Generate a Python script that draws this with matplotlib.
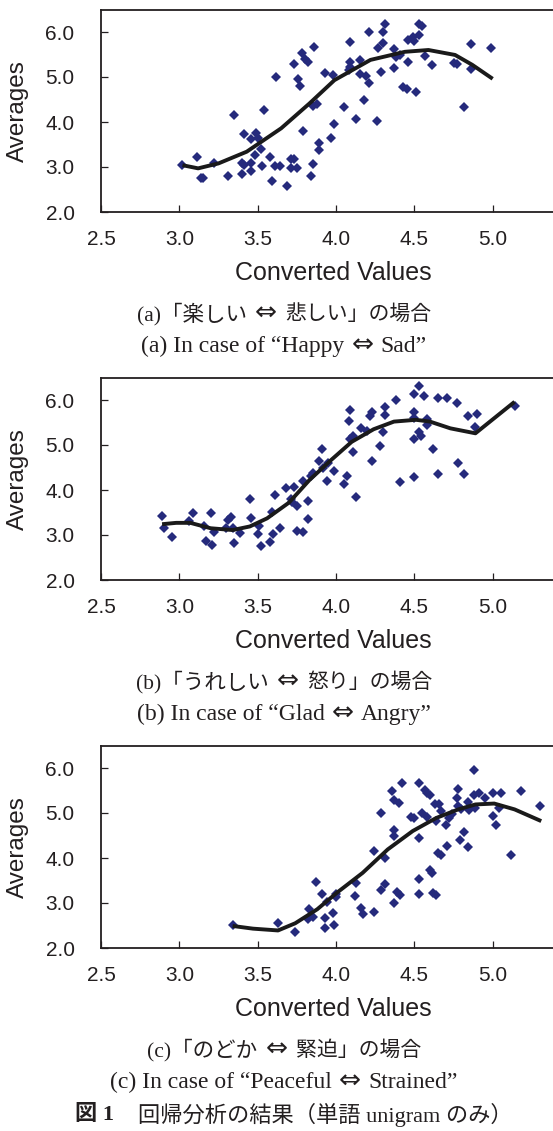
import matplotlib
matplotlib.use('Agg')
import matplotlib.pyplot as plt
from matplotlib.offsetbox import TextArea, HPacker, AnnotationBbox

W, H = 553, 1131
fig = plt.figure(figsize=(W / 100, H / 100), dpi=100)

# ---------------- data ----------------
a_x = [3.02,3.11,3.14,3.15,3.22,3.31,3.35,3.40,3.41,3.40,
       3.41,3.46,3.46,3.46,3.49,3.50,3.48,3.52,3.53,3.54,
       3.59,3.62,3.58,3.61,3.64,3.69,3.71,3.73,3.71,3.75,
       3.73,3.78,3.76,3.77,3.80,3.82,3.86,3.79,3.84,3.85,
       3.85,3.88,3.89,3.89,3.93,3.97,3.98,3.99,4.05,4.09,
       4.09,4.08,4.09,4.13,4.15,4.15,4.19,4.18,4.21,4.21,
       4.26,4.27,4.30,4.31,4.30,4.29,4.37,4.37,4.38,4.41,
       4.43,4.45,4.46,4.46,4.49,4.50,4.53,4.51,4.53,4.55,
       4.57,4.61,4.75,4.77,4.82,4.86,4.86,4.99]
a_y = [3.04,3.23,2.75,2.75,3.10,2.79,4.16,3.10,3.73,2.84,
       3.04,3.62,3.10,2.91,3.75,3.64,3.27,3.41,3.02,4.27,
       2.70,4.99,3.23,3.03,3.03,2.58,3.18,3.17,2.97,2.97,
       5.30,5.53,4.96,4.81,5.39,5.33,5.67,3.79,2.81,3.06,
       4.36,4.40,3.53,3.38,5.10,3.65,5.04,3.95,4.34,5.77,
       5.23,5.16,5.33,4.07,5.37,5.07,5.02,4.49,6.01,4.87,
       4.03,5.64,5.75,6.18,6.00,5.12,5.62,5.21,5.44,5.50,
       4.77,4.73,5.34,5.82,5.90,5.80,5.93,4.66,6.18,6.13,
       5.47,5.27,5.32,5.28,4.33,5.73,5.18,5.64]
a_curve_x = [3.02,3.12,3.25,3.43,3.65,3.83,3.99,4.22,4.44,4.59,4.76,4.87,5.00]
a_curve_y = [3.04,2.97,3.08,3.34,3.86,4.41,4.93,5.38,5.56,5.60,5.49,5.27,4.96]

b_x = [2.89,2.90,2.95,3.06,3.09,3.16,3.20,3.17,3.21,3.22,
       3.31,3.33,3.34,3.30,3.35,3.39,3.45,3.46,3.50,3.51,
       3.52,3.58,3.60,3.59,3.64,3.61,3.68,3.71,3.73,3.72,
       3.75,3.75,3.79,3.82,3.82,3.79,3.84,3.85,3.89,3.91,
       3.92,3.94,3.95,3.99,4.05,4.07,4.09,4.08,4.09,4.11,
       4.11,4.13,4.16,4.20,4.23,4.22,4.23,4.28,4.30,4.31,
       4.31,4.38,4.41,4.50,4.50,4.50,4.50,4.50,4.53,4.53,
       4.54,4.56,4.58,4.58,4.62,4.65,4.65,4.71,4.77,4.78,
       4.82,4.84,4.90,4.89,5.14]
b_y = [3.43,3.16,2.96,3.32,3.50,3.21,3.48,2.87,2.78,3.06,
       3.33,3.39,3.16,3.16,2.83,3.04,3.79,3.37,3.02,3.21,
       2.76,2.84,3.02,3.52,3.16,3.89,4.04,3.80,4.07,3.74,
       3.65,3.09,3.06,3.76,3.36,4.21,4.31,4.37,4.65,4.91,
       4.50,4.20,4.59,4.43,4.13,4.32,5.78,5.54,5.13,5.19,
       4.84,3.84,5.37,5.31,4.65,5.65,5.73,4.98,5.30,5.85,
       5.67,5.99,4.17,5.73,6.13,5.61,5.13,4.30,5.30,6.32,
       5.19,6.10,5.44,5.58,4.91,4.36,6.04,6.04,5.93,4.59,
       4.35,5.65,5.68,5.41,5.87]
b_curve_x = [2.89,2.98,3.07,3.20,3.34,3.45,3.56,3.70,3.83,3.97,4.10,4.24,4.37,4.51,4.60,4.73,4.89,5.14]
b_curve_y = [3.24,3.27,3.27,3.15,3.11,3.19,3.37,3.72,4.22,4.67,5.07,5.35,5.52,5.56,5.52,5.37,5.26,5.96]

c_x = [3.34,3.63,3.74,3.83,3.82,3.85,3.87,3.91,3.93,3.93,
       3.94,3.98,3.99,4.00,4.00,4.13,4.12,4.16,4.17,4.24,
       4.24,4.29,4.31,4.29,4.31,4.36,4.37,4.40,4.37,4.37,
       4.37,4.39,4.41,4.42,4.48,4.50,4.53,4.53,4.53,4.53,
       4.55,4.58,4.57,4.58,4.60,4.60,4.61,4.62,4.64,4.63,
       4.66,4.67,4.64,4.65,4.67,4.70,4.71,4.72,4.74,4.78,
       4.77,4.78,4.79,4.80,4.82,4.84,4.84,4.85,4.88,4.88,
       4.89,4.91,4.95,5.00,5.00,5.02,5.04,5.05,5.12,5.18,
       5.30]
c_y = [2.51,2.56,2.35,2.86,2.64,2.70,3.47,3.21,2.66,2.45,
       3.03,2.78,2.51,3.19,3.14,3.45,3.15,2.89,2.75,2.81,
       4.15,4.99,4.00,3.29,3.43,5.48,5.28,5.22,4.62,4.48,
       3.01,3.25,3.17,5.67,4.91,4.88,4.45,3.54,3.21,5.67,
       5.00,4.91,5.52,5.45,5.41,3.74,3.67,3.23,3.17,5.21,
       5.19,5.04,4.82,4.11,4.06,4.74,4.26,4.88,4.98,5.53,
       5.33,5.15,4.41,5.08,4.57,4.25,5.24,5.06,5.95,5.41,
       5.11,5.45,5.33,5.45,4.93,4.74,5.11,5.45,4.06,5.48,
       5.15]
c_curve_x = [3.34,3.47,3.63,3.74,3.88,4.01,4.17,4.33,4.49,4.64,4.78,4.89,5.01,5.14,5.31]
c_curve_y = [2.49,2.43,2.39,2.55,2.86,3.24,3.67,4.19,4.60,4.89,5.08,5.19,5.21,5.08,4.82]

x_ticks = [2.5, 3.0, 3.5, 4.0, 4.5, 5.0]
y_ticks = [2.0, 3.0, 4.0, 5.0, 6.0]
x_label = "Converted Values"
y_label = "Averages"
# caption pieces: (left part, right part) around the arrow
captions_jp = [("(a)「楽しい", "悲しい」の場合"),
               ("(b)「うれしい", "怒り」の場合"),
               ("(c)「のどか", "緊迫」の場合")]
captions_en = [("(a) In case of \u201cHappy", "Sad\u201d"),
               ("(b) In case of \u201cGlad", "Angry\u201d"),
               ("(c) In case of \u201cPeaceful", "Strained\u201d")]
ARROW = "\u21d4"
fig_label = "図 1"
fig_title = "回帰分析の結果（単語 unigram のみ）"

panels = [(a_x, a_y, a_curve_x, a_curve_y),
          (b_x, b_y, b_curve_x, b_curve_y),
          (c_x, c_y, c_curve_x, c_curve_y)]

# ---------------- styling ----------------
TXT = '#231f20'
PT_COL = '#252a7c'
SANS = ['Liberation Sans', 'DejaVu Sans']
SERIF = ['Liberation Serif', 'DejaVu Serif']
CJK = ['Noto Sans CJK JP', 'DejaVu Sans']
ARW = ['DejaVu Sans']
SERIF_JP = ['Liberation Serif', 'Noto Sans CJK JP', 'DejaVu Serif']

LEFT, RIGHT = 101, 571
bottoms = [212, 580, 948]
AX_H = 202.5


def ftext(xp, yp, s, **kw):
    fig.text(xp / W, 1 - yp / H, s, **kw)


def rich(xp, yp, parts, sep):
    boxes = []
    for s, fam, fs in parts:
        boxes.append(TextArea(s, textprops=dict(fontsize=fs, family=fam, color=TXT)))
    pk = HPacker(children=boxes, align='baseline', pad=0, sep=sep)
    ab = AnnotationBbox(pk, (xp / W, 1 - yp / H), xycoords='figure fraction',
                        frameon=False, box_alignment=(0.5, 0.5), pad=0)
    fig.add_artist(ab)


for i, (px, py, cx, cy) in enumerate(panels):
    bot = bottoms[i]
    top = bot - AX_H
    ax = fig.add_axes([LEFT / W, 1 - bot / H, (RIGHT - LEFT) / W, AX_H / H])
    ax.plot(px, py, linestyle='none', marker='D', markersize=5.6,
            color=PT_COL, markeredgewidth=0, zorder=2)
    ax.plot(cx, cy, color='#1a1a1a', linewidth=2.8, solid_joinstyle='round',
            solid_capstyle='butt', zorder=3)
    ax.set_xlim(2.5, 5.5)
    ax.set_ylim(2.0, 6.5)
    ax.set_xticks(x_ticks)
    ax.set_yticks(y_ticks)
    ax.set_xticklabels(['%.1f' % v for v in x_ticks])
    ax.set_yticklabels(['%.1f' % v for v in y_ticks])
    for sp in ax.spines.values():
        sp.set_linewidth(1.3)
        sp.set_color(TXT)
    ax.tick_params(axis='both', direction='in', length=5, width=0.9,
                   color=TXT, labelcolor=TXT, labelsize=15)
    ax.tick_params(axis='x', pad=13)
    ax.tick_params(axis='y', pad=19)
    for lab in ax.get_xticklabels() + ax.get_yticklabels():
        lab.set_fontfamily(SANS)
    ax.patch.set_visible(False)

    ftext(18, (top + bot) / 2, y_label, rotation=90, ha='center', va='center',
          fontsize=17.5, family=SANS, color=TXT)
    ftext(333, bot + 61, x_label, ha='center', va='center',
          fontsize=18, family=SANS, color=TXT)

    lw, rw = captions_jp[i]
    rich(284, bot + 101,
         [(lw, SERIF_JP, 15.5), (ARROW, ARW, 19), (rw, CJK, 15)], sep=6)
    le, re = captions_en[i]
    rich(284, bot + 133,
         [(le, SERIF, 17), (ARROW, ARW, 19), (re, SERIF, 17)], sep=5)

ftext(75, 1115, fig_label, ha='left', va='center', fontsize=16,
      family=['Liberation Serif', 'Noto Sans CJK JP'], fontweight='bold', color=TXT)
ftext(138, 1115, fig_title, ha='left', va='center', fontsize=16,
      family=SERIF_JP, color=TXT)

fig.savefig('out.png', dpi=100)
